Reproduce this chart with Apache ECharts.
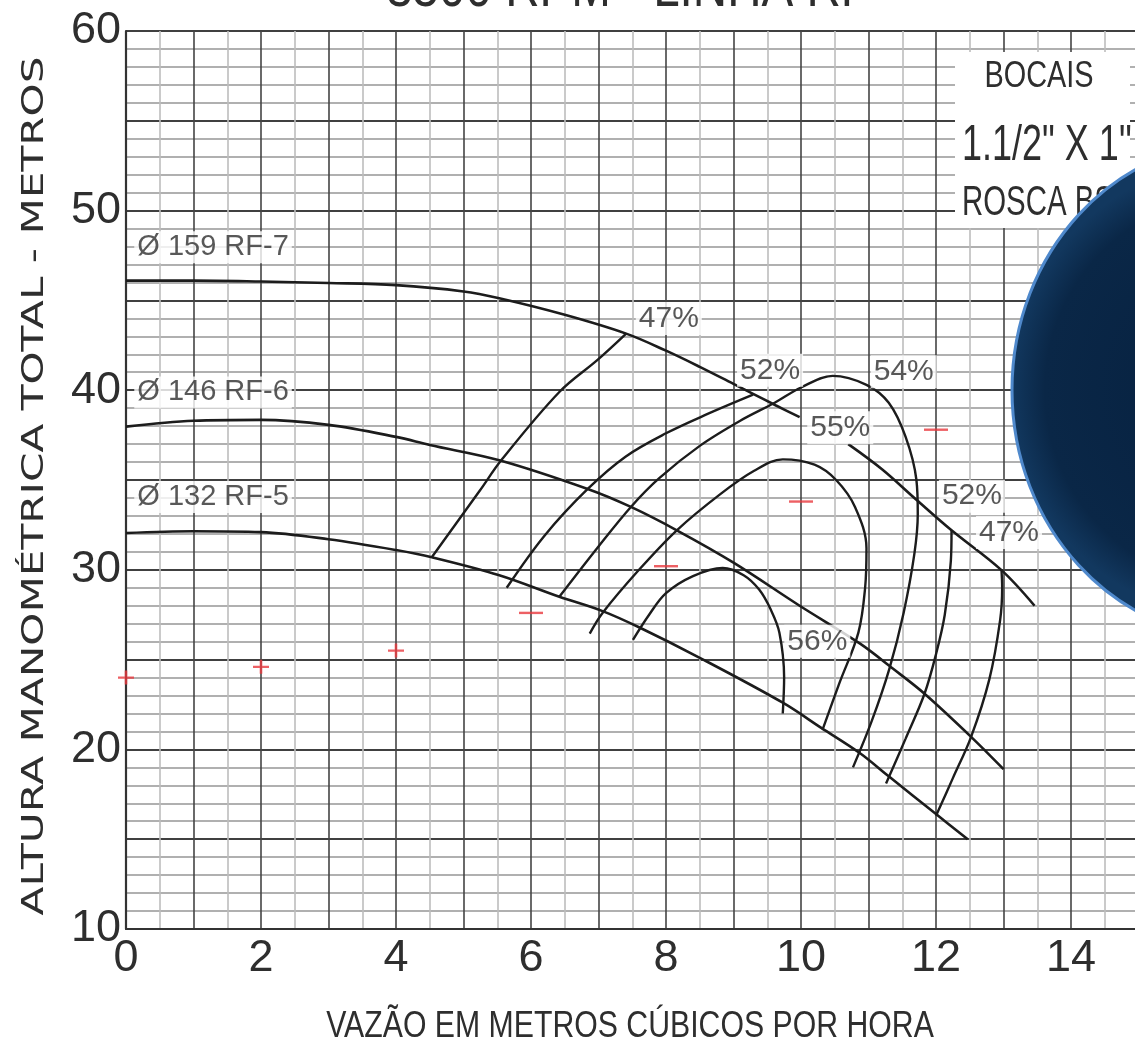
<!DOCTYPE html>
<html>
<head>
<meta charset="utf-8">
<title>Curvas 3500 RPM - Linha RF</title>
<script src="https://cdn.jsdelivr.net/npm/echarts@6/dist/echarts.min.js"></script>
<style>
  html, body { margin: 0; padding: 0; background: #fff; }
  #chart { width: 1135px; height: 1052px; }
</style>
</head>
<body>
<div id="chart"></div>
<script>
// Tick labels shown on each axis
const flowLabels = [0, 2, 4, 6, 8, 10, 12, 14];
const headLabels = [10, 20, 30, 40, 50, 60];

// Head curves per impeller diameter: [vazão m³/h, altura m]
const rf7Upper = [[0,46.1],[1,46.1],[2,46.05],[3,45.97],[4,45.85],[5,45.5],[5.53,45.12],[6.5,44.2],[7.41,43.15],[8.0,42.2],[8.5,41.3],[9.0,40.35],[9.29,39.8],[9.63,39.15],[9.98,38.5]];
const rf7Lower = [[10.7,37.0],[11.2,35.6],[11.71,33.9],[12.23,32.2],[12.97,29.98],[13.46,28.0]];
const rf6 = [[0,37.97],[1,38.3],[2,38.35],[3,38.07],[4,37.4],[4.5,36.95],[5.53,36.1],[6.84,34.5],[7.48,33.5],[8.16,32.2],[9.0,30.4],[9.98,28.0],[10.87,25.9],[11.36,24.5],[11.83,23.1],[12.52,20.7],[13.0,18.9]];
const rf5 = [[0,32.05],[1,32.15],[2,32.1],[3,31.7],[4,31.1],[4.53,30.7],[5.53,29.7],[6.42,28.5],[7.06,27.7],[7.6,26.8],[8.5,25.1],[9.73,22.6],[10.3,21.2],[10.87,19.8],[11.3,18.5],[12.0,16.4],[12.47,15.0]];

// Iso-efficiency curves
const eff47Left = [[4.53,30.7],[5.24,34.4],[5.57,36.15],[6.42,39.9],[6.99,41.7],[7.41,43.15]];
const eff52Left = [[5.64,29.0],[6.2,31.9],[6.84,34.5],[7.4,36.3],[8.0,37.6],[8.6,38.65],[9.29,39.75]];
const eff54 = [[6.42,28.5],[7.0,31.3],[7.48,33.5],[7.9,35.1],[8.5,36.9],[9.1,38.3],[9.61,39.3],[10.0,40.15],[10.47,40.8],[10.97,40.3],[11.3,39.3],[11.55,37.4],[11.71,35.0],[11.73,33.1],[11.68,30.9],[11.52,27.6],[11.31,24.5],[11.05,21.6],[10.77,19.0]];
const eff55 = [[6.87,26.45],[7.06,27.6],[7.6,30.0],[8.16,32.2],[8.8,34.2],[9.3,35.5],[9.73,36.15],[10.2,35.85],[10.52,35.0],[10.8,33.5],[10.97,31.2],[10.95,29.0],[10.85,26.5],[10.57,23.7],[10.32,21.1]];
const eff56 = [[7.51,26.1],[7.75,27.5],[8.0,28.7],[8.4,29.65],[8.84,30.1],[9.15,29.7],[9.38,28.9],[9.55,27.8],[9.68,26.5],[9.75,24.0],[9.73,22.0]];
const eff52Right = [[12.23,32.2],[12.22,30.5],[12.13,27.5],[12.0,25.3],[11.83,23.1],[11.55,20.6],[11.26,18.1]];
const eff47Right = [[12.97,30.0],[12.98,29.0],[12.95,27.2],[12.79,23.9],[12.52,20.7],[12.25,18.4],[12.0,16.3]];

// Operating points (red marks)
const operatingFlow = [0, 2, 4, 6, 8, 10, 12];
const operatingHead = [24.0, 24.6, 25.5, 27.6, 30.2, 33.8, 37.8];

// Curve annotations: text and anchor (left edge, vertical centre) in data units
const tagTexts = ['Ø 159 RF-7', 'Ø 146 RF-6', 'Ø 132 RF-5', '47%', '52%', '54%', '55%', '52%', '47%', '56%'];
const tagFlow  = [0.13, 0.13, 0.13, 7.56, 9.06, 11.04, 10.1, 12.05, 12.6, 9.76];
const tagHead  = [47.93, 39.85, 34.03, 43.97, 41.08, 41.0, 37.88, 34.07, 32.05, 25.99];

const SANS = '"Liberation Sans Narrow", "Liberation Sans", Arial, sans-serif';
const INK = '#1c1c1c';
const TEXT = '#2e2e2e';

function curve(data, width) {
  return {
    type: 'line', data: data, smooth: 0.35, symbol: 'none', silent: true,
    lineStyle: { color: INK, width: width || 2.4 }, z: 3
  };
}

const plusPath = 'path://M0,4.2L10,4.2L10,5.8L0,5.8Z M4.2,0L5.8,0L5.8,10L4.2,10Z';
const operatingData = operatingFlow.map(function (q, i) {
  const isCross = i < 3;
  return {
    value: [q, operatingHead[i]],
    symbol: isCross ? plusPath : 'rect',
    symbolSize: isCross ? [16, 14] : [24, 2.4]
  };
});

const tagData = tagTexts.map(function (t, i) {
  const diameterTag = t.charAt(0) === 'Ø';
  return {
    name: t,
    value: [tagFlow[i], tagHead[i]],
    label: { fontSize: diameterTag ? 29 : 30 }
  };
});

// Stretched text block used for the titles and the nozzle note
function note(text, x, y, size, sx, sy, align, rot) {
  return {
    type: 'text', x: x, y: y, scaleX: sx, scaleY: sy, rotation: rot || 0, z: 20,
    style: { text: text, font: size + 'px ' + SANS, fill: TEXT, textAlign: align || 'center', textVerticalAlign: 'middle' }
  };
}

const chart = echarts.init(document.getElementById('chart'), null, { renderer: 'canvas' });

chart.setOption({
  animation: false,
  backgroundColor: '#ffffff',
  grid: { left: 126, top: 31, width: 1080, height: 898, outerBoundsMode: 'none', containLabel: false },
  xAxis: {
    type: 'value', min: 0, max: 16, interval: 1,
    axisLine: { show: true, onZero: false, lineStyle: { color: '#333', width: 2.2 } },
    axisTick: { show: false },
    axisLabel: {
      margin: 7, color: TEXT, fontFamily: SANS, fontSize: 45,
      formatter: function (v) { return flowLabels.indexOf(v) >= 0 ? String(v) : ''; }
    },
    splitLine: { show: true, lineStyle: { color: '#444', width: 1.6 } },
    minorTick: { show: false, splitNumber: 2 },
    minorSplitLine: { show: true, lineStyle: { color: '#bdbdbd', width: 1.6 } }
  },
  yAxis: {
    type: 'value', min: 10, max: 60, interval: 5,
    axisLine: { show: true, onZero: false, lineStyle: { color: '#333', width: 2.2 } },
    axisTick: { show: false },
    axisLabel: {
      margin: 5, color: TEXT, fontFamily: SANS, fontSize: 45,
      formatter: function (v) { return headLabels.indexOf(v) >= 0 ? String(v) : ''; }
    },
    splitLine: { show: true, lineStyle: { color: '#404040', width: 2 } },
    minorTick: { show: false, splitNumber: 5 },
    minorSplitLine: { show: true, lineStyle: { color: '#b0b0b0', width: 1.8 } }
  },
  series: [
    curve(rf7Upper, 2.6), curve(rf7Lower, 2.6), curve(rf6, 2.6), curve(rf5, 2.6),
    curve(eff47Left), curve(eff52Left), curve(eff54), curve(eff55), curve(eff56),
    curve(eff52Right), curve(eff47Right),
    {
      type: 'scatter', data: operatingData, silent: true, z: 4,
      itemStyle: { color: '#e8383d' }
    },
    {
      type: 'scatter', data: tagData, symbolSize: 1, silent: true, z: 6,
      itemStyle: { color: 'rgba(0,0,0,0)' },
      label: {
        show: true, position: [0, 0], align: 'left', verticalAlign: 'middle',
        formatter: function (p) { return p.name; },
        fontFamily: SANS, fontSize: 29, color: TEXT,
        backgroundColor: '#ffffff', padding: [2, 3, 1, 3]
      }
    }
  ],
  graphic: [
    note('3500 RPM - LINHA RF', 628, -10, 58, 0.82, 1),
    {
      type: 'text', x: 35, y: 486, rotation: Math.PI / 2, scaleX: 1.36, z: 20,
      style: { text: 'ALTURA MANOMÉTRICA TOTAL - METROS', font: '31px "DejaVu Sans", sans-serif', fill: TEXT, textAlign: 'center', textVerticalAlign: 'middle' }
    },
    note('VAZÃO EM METROS CÚBICOS POR HORA', 630, 1027, 36, 0.84, 1),
    {
      type: 'rect', z: 10, shape: { x: 955, y: 52, width: 175, height: 176 },
      style: { fill: '#ffffff' }
    },
    note('BOCAIS', 1039, 77, 37, 0.78, 1),
    note('1.1/2" X 1"', 962, 146, 50, 0.72, 1, 'left'),
    note('ROSCA BSP', 962, 203, 42, 0.7, 1, 'left'),
    {
      type: 'ellipse', z: 30,
      shape: { cx: 1240, cy: 390, rx: 228, ry: 248 },
      style: {
        fill: new echarts.graphic.RadialGradient(0.5, 0.5, 0.5, [
          { offset: 0, color: '#06203f' },
          { offset: 0.85, color: '#0a2747' },
          { offset: 1, color: '#12385f' }
        ]),
        stroke: '#4f89cc', lineWidth: 3
      }
    }
  ]
});
</script>
</body>
</html>
